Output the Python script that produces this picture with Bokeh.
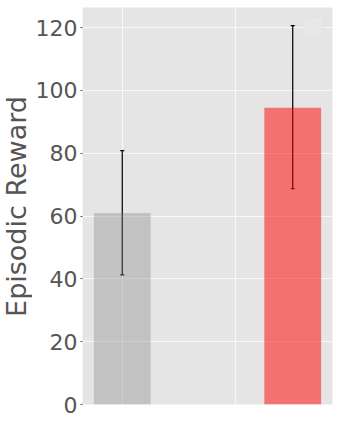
import math
from bokeh.plotting import figure
from bokeh.layouts import row
from bokeh.models import (ColumnDataSource, Whisker, TeeHead, FixedTicker,
                          BoxAnnotation, Range1d, Label)
from bokeh.embed import file_html
from bokeh.resources import INLINE

# Data
positions = [0.0, 1.5]
means = [61.0, 94.5]
lower = [41.3, 68.7]
upper = [80.8, 120.6]
colors = ["#808080", "#FF0000"]
alphas = [0.35, 0.5]
y_ticks = [0, 20, 40, 60, 80, 100, 120]
x_grid = [0, 1]
y_label = "Episodic Reward"

src = ColumnDataSource(dict(x=positions, top=means, lower=lower, upper=upper,
                            color=colors, alpha=alphas))

# narrow strip holding the y-axis title
LW, H = 32, 423
lab = figure(width=LW, height=H, output_backend="svg", toolbar_location=None,
             x_range=Range1d(0, LW), y_range=Range1d(0, H),
             min_border_left=0, min_border_right=0, min_border_top=0, min_border_bottom=0)
lab.xaxis.visible = False
lab.yaxis.visible = False
lab.grid.visible = False
lab.outline_line_color = None
lab.background_fill_color = "white"
lab.border_fill_color = "white"
lab.add_layout(Label(x=16, y=H - 212, text=y_label, angle=math.pi / 2,
                     text_align="center", text_baseline="middle",
                     text_font="DejaVu Sans", text_font_size="27px",
                     text_color="#555555"))

p = figure(width=338 - LW, height=H, output_backend="svg", toolbar_location=None,
           x_range=Range1d(-0.35, 1.85), y_range=Range1d(0, 126.4),
           min_border_left=81 - LW, min_border_right=6, min_border_top=7, min_border_bottom=19)

p.background_fill_color = "#E5E5E5"
p.border_fill_color = "white"
p.outline_line_color = None

p.vbar(x="x", top="top", width=0.5, bottom=0, source=src,
       fill_color="color", fill_alpha="alpha", line_color=None)

w = Whisker(source=src, base="x", upper="upper", lower="lower",
            line_color="black", line_width=1.2,
            upper_head=TeeHead(size=4, line_color="black", line_width=1.2),
            lower_head=TeeHead(size=4, line_color="black", line_width=1.2))
p.add_layout(w)

p.xaxis.visible = False
p.xgrid.ticker = FixedTicker(ticks=x_grid)
p.xgrid.grid_line_color = "white"
p.xgrid.grid_line_alpha = 0.7
p.ygrid.grid_line_color = "white"
p.ygrid.grid_line_alpha = 0.7

ya = p.yaxis[0]
ya.ticker = FixedTicker(ticks=y_ticks)
ya.axis_line_color = None
ya.major_tick_line_color = "#555555"
ya.major_tick_out = 2
ya.major_tick_in = 0
ya.minor_tick_line_color = None
ya.major_label_text_font = "DejaVu Sans"
ya.major_label_text_font_size = "22px"
ya.major_label_text_color = "#555555"
ya.major_label_standoff = 3

# empty legend box
box = BoxAnnotation(left=1.60, right=1.77, top=123.2, bottom=117.2,
                    fill_color="#E8E8E8", fill_alpha=1.0,
                    line_color="#DDDDDD", line_width=1, border_radius=3)
p.add_layout(box)

layout = row(lab, p, spacing=0)
open("out.html", "w").write(file_html(layout, INLINE))
